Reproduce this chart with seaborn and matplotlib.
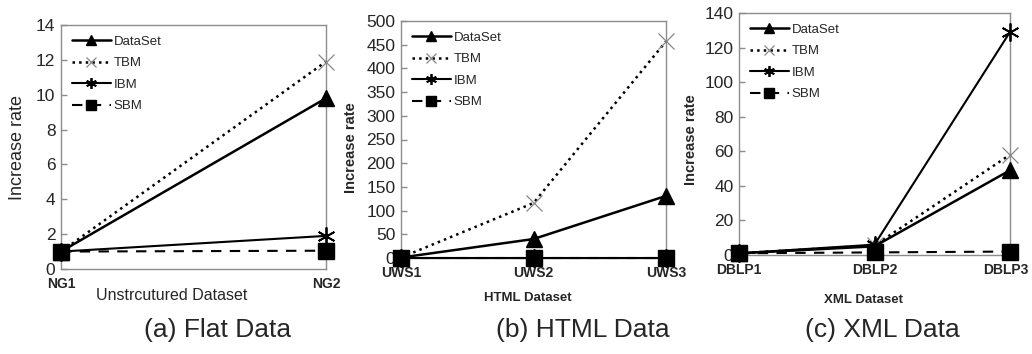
import matplotlib
matplotlib.use("Agg")
import matplotlib.pyplot as plt
import matplotlib.transforms as mtransforms
import seaborn as sns
import pandas as pd

# ---- data ----
flat_x = ["NG1", "NG2"]
flat_dataset = [1, 9.8]
flat_tbm = [1, 11.9]
flat_ibm = [1, 1.9]
flat_sbm = [1, 1.05]

html_x = ["UWS1", "UWS2", "UWS3"]
html_dataset = [1, 40, 131]
html_tbm = [1, 116, 457]
html_ibm = [1, 1, 1]
html_sbm = [1, 1, 1]

xml_x = ["DBLP1", "DBLP2", "DBLP3"]
xml_dataset = [1, 5, 49]
xml_tbm = [1, 5.5, 58]
xml_ibm = [1, 6, 129]
xml_sbm = [1, 1.5, 2]

series_names = ["DataSet", "TBM", "IBM", "SBM"]

styles = {
    "DataSet": dict(color="black", ls="-", lw=1.8, marker="^", ms=11, mfc="black", mec="black", mew=1),
    "TBM": dict(color="black", ls=":", lw=1.8, marker="x", ms=12, mfc="none", mec="#888888", mew=0.9),
    "IBM": dict(color="black", ls="-", lw=1.5, marker=(6, 2, 0), ms=13, mfc="black", mec="black", mew=1.3),
    "SBM": dict(color="black", ls=(0, (5, 4)), lw=1.5, marker="s", ms=11, mfc="black", mec="black", mew=1),
}

sns.set_style("white")
plt.rcParams["font.family"] = ["Liberation Sans", "DejaVu Sans"]

fig = plt.figure(figsize=(10.32, 3.54), dpi=100)

panels = [
    dict(x=flat_x, vals=[flat_dataset, flat_tbm, flat_ibm, flat_sbm], ylim=(0, 14), step=2,
         xlabel="Unstrcutured Dataset", bold=False, cap="(a) Flat Data",
         rect=(61, 25, 326, 269), cap_x=218, xl=(172, 295), yl=(18, 147)),
    dict(x=html_x, vals=[html_dataset, html_tbm, html_ibm, html_sbm], ylim=(0, 500), step=50,
         xlabel="HTML Dataset", bold=True, cap="(b) HTML Data",
         rect=(401, 21, 666, 258), cap_x=583, xl=(528, 298), yl=(351, 148)),
    dict(x=xml_x, vals=[xml_dataset, xml_tbm, xml_ibm, xml_sbm], ylim=(0, 140), step=20,
         xlabel="XML Dataset", bold=True, cap="(c) XML Data",
         rect=(739, 13, 1010, 255), cap_x=882, xl=(863, 300), yl=(691, 140)),
]

W, H = 1032, 354
for p in panels:
    l, t, r, b = p["rect"]
    ax = fig.add_axes([l / W, 1 - b / H, (r - l) / W, (b - t) / H])
    rows = []
    for name, v in zip(series_names, p["vals"]):
        for i, (cat, y) in enumerate(zip(p["x"], v)):
            rows.append(dict(cat=cat, pos=i, val=y, series=name))
    df = pd.DataFrame(rows)
    for name in series_names:
        st = styles[name]
        sub = df[df["series"] == name]
        sns.lineplot(data=sub, x="pos", y="val", ax=ax, color=st["color"], linestyle=st["ls"],
                     linewidth=st["lw"], marker=st["marker"], markersize=st["ms"],
                     markerfacecolor=st["mfc"], markeredgecolor=st["mec"], markeredgewidth=st["mew"],
                     label=name, clip_on=False, zorder=3)
    ax.set_xlim(0, len(p["x"]) - 1)
    ax.set_ylim(*p["ylim"])
    ax.set_yticks(range(p["ylim"][0], p["ylim"][1] + 1, p["step"]))
    ax.set_xticks(range(len(p["x"])))
    ax.set_xticklabels(p["x"], fontsize=10, fontweight="bold")
    ax.tick_params(axis="y", labelsize=12.5, direction="in", length=4, color="#8c8c8c", width=1,
                   pad=4, left=True)
    ax.tick_params(axis="x", length=0, pad=6)
    # keep the last label of the XML panel inside the image
    if p["x"] is xml_x:
        lab = ax.get_xticklabels()[-1]
        lab.set_transform(lab.get_transform() + mtransforms.ScaledTranslation(-4 / 100, 0, fig.dpi_scale_trans))
    ax.set_xlabel("")
    ax.set_ylabel("")
    for s in ax.spines.values():
        s.set_color("#8c8c8c")
        s.set_linewidth(1)
    ax.grid(False)
    ax.legend(loc="upper left", frameon=False, fontsize=9.5, handlelength=3.0, markerscale=0.6,
              handletextpad=0.2, labelspacing=0.7, borderaxespad=0.3, borderpad=0.5)
    fs = 9.5 if p["bold"] else 11.5
    fw = "bold" if p["bold"] else "normal"
    fig.text(p["xl"][0] / W, 1 - p["xl"][1] / H, p["xlabel"], ha="center", va="center",
             fontsize=fs, fontweight=fw)
    fig.text(p["yl"][0] / W, 1 - p["yl"][1] / H, "Increase rate", ha="center", va="center",
             rotation=90, fontsize=10.5 if p["bold"] else 13, fontweight=fw)
    fig.text(p["cap_x"] / W, 1 - 330 / H, p["cap"], ha="center", va="center", fontsize=19)

fig.savefig("out.png", dpi=100)
